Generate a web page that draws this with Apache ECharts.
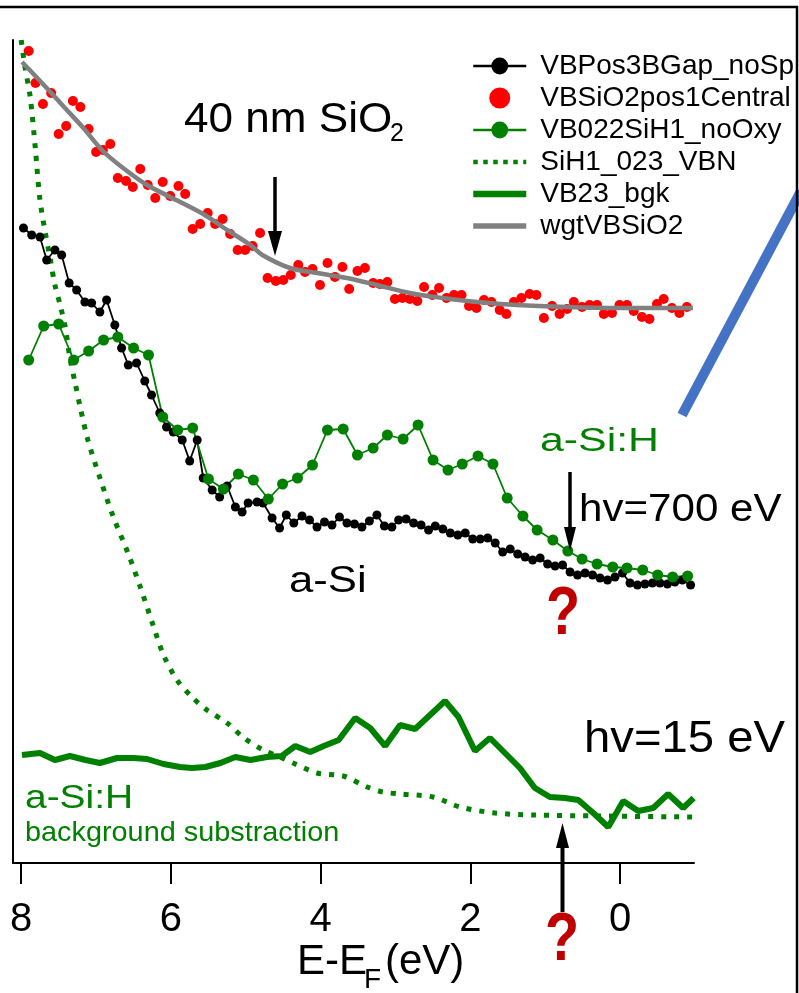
<!DOCTYPE html>
<html><head><meta charset="utf-8">
<script src="https://cdn.jsdelivr.net/npm/echarts@6/dist/echarts.min.js"></script>
<style>html,body{margin:0;padding:0;background:#fff;}#c{width:799px;height:993px;}</style>
</head><body><div id="c"></div>
<script>
const FONT = '"Liberation Sans", Arial, Helvetica, sans-serif';
const xTicks = [8, 6, 4, 2, 0];

// VBPos3BGap_noSp (black, hv=700 eV a-Si)
const blackX = [7.97,7.86,7.75,7.66,7.55,7.46,7.36,7.26,7.15,7.06,6.95,6.86,6.75,6.66,6.57,6.46,
 6.35,6.26,6.15,6.06,5.97,5.85,5.75,5.65,5.57,5.45,5.35,5.25,5.14,5.05,
 4.97,4.85,4.77,4.65,4.55,4.46,4.36,4.25,4.15,4.05,3.95,3.85,3.75,3.65,3.55,3.45,
 3.35,3.25,3.15,3.05,2.96,2.86,2.76,2.66,2.56,2.47,2.37,2.27,2.17,2.07,1.97,1.87,1.77,
 1.67,1.57,1.47,1.37,1.27,1.17,1.07,0.97,0.87,0.77,0.67,0.57,0.47,0.37,0.27,0.17,0.07,
 -0.03,-0.13,-0.23,-0.33,-0.43,-0.53,-0.63,-0.73,-0.83,-0.94];
const blackY = [635,628,626,603,613,608,580,573,561,560,551,563,538,515,498,500,
 482,468,450,436,431,423,402,423,385,373,366,377,356,351,
 360,361,360,345,335,348,340,347,343,336,341,338,346,340,339,336,
 342,348,337,336,343,344,340,338,333,337,334,330,328,330,324,324,325,
 320,311,314,309,306,303,305,299,297,298,291,288,290,288,285,283,286,
 290,280,278,279,280,280,279,281,283,278];

// VBSiO2pos1Central (red dots)
const redX = [7.90,7.81,7.71,7.60,7.50,7.40,7.31,7.21,7.10,7.00,
 6.91,6.81,6.71,6.60,6.51,6.41,6.31,6.21,6.11,6.01,
 5.90,5.81,5.71,5.61,5.51,5.41,5.31,5.21,5.11,5.01,
 4.91,4.81,4.71,4.60,4.50,4.40,4.30,4.21,4.11,4.01,
 3.91,3.81,3.71,3.62,3.51,3.41,3.30,3.21,3.11,3.01,
 2.91,2.81,2.71,2.62,2.51,2.42,2.32,2.22,2.12,2.02,
 1.92,1.82,1.72,1.61,1.52,1.42,1.32,1.21,1.12,1.02,
 0.91,0.81,0.71,0.62,0.51,0.41,0.31,0.22,0.11,0.01,
 -0.09,-0.18,-0.29,-0.39,-0.49,-0.58,-0.69,-0.79,-0.89,-0.99];
const redY = [812,780,759,770,729,737,762,756,734,711,
 713,719,685,682,676,694,678,665,681,667,
 677,669,634,639,650,639,644,629,613,613,
 617,630,585,582,583,588,598,591,594,578,
 600,586,596,574,592,595,580,579,581,564,
 565,564,562,576,568,575,565,568,568,557,
 555,563,561,553,549,561,565,569,568,545,
 557,549,554,561,556,558,558,549,550,558,
 558,552,546,544,559,564,555,550,556,555];

// VB022SiH1_noOxy (green with markers, hv=700 eV a-Si:H)
const greenX = [7.90,7.70,7.50,7.30,7.10,6.90,6.71,6.50,6.30,6.11,
 5.91,5.71,5.50,5.30,5.10,4.90,4.70,4.51,4.31,4.11,
 3.91,3.70,3.51,3.30,3.11,2.90,2.70,2.50,2.30,2.11,
 1.90,1.70,1.51,1.30,1.11,0.90,0.70,0.51,0.31,0.10,
 -0.09,-0.30,-0.50,-0.70,-0.90];
const greenY = [503,537,539,503,512,523,526,515,508,446,
 433,435,384,374,389,383,364,379,385,398,
 433,434,408,415,428,424,438,403,393,399,
 407,399,365,347,333,323,312,304,299,296,
 295,293,288,286,287];

// SiH1_023_VBN (green dotted)
const dotX = [8.00,7.95,7.88,7.81,7.75,7.68,7.61,7.55,7.48,7.41,7.35,7.28,7.21,
 7.11,6.94,6.77,6.58,6.41,6.24,6.10,5.92,5.72,5.52,5.25,5.04,
 4.77,4.54,4.37,4.05,3.70,3.38,3.17,2.94,2.50,2.14,1.67,1.16,0.27,-0.97];
const dotY = [823,796,766,713,663,631,603,578,558,535,505,480,455,
 423,383,346,311,276,238,208,183,166,153,140,126,
 113,106,100,90,87,76,71,69,66,56,50,48,47,46];

// VB23_bgk (thick green, hv=15 eV)
const bgkX = [7.99,7.75,7.55,7.35,7.14,6.95,6.72,6.50,6.32,6.10,
 5.88,5.72,5.54,5.34,5.14,4.94,4.72,4.52,4.34,4.14,
 3.96,3.76,3.54,3.34,3.14,2.94,2.74,2.54,2.34,2.16,
 1.94,1.74,1.54,1.34,1.14,0.94,0.74,0.56,0.36,0.16,
 -0.04,-0.24,-0.44,-0.64,-0.84,-0.98];
const bgkY = [108,110,103,107,103,100,105,105,104,99,
 96,95,96,100,106,103,106,107,117,111,
 117,123,145,135,117,138,134,148,162,146,
 112,125,110,95,75,66,65,63,50,36,
 62,52,55,69,55,65];

// wgtVBSiO2 (gray)
const grayX = [7.99,7.71,7.44,7.17,6.91,6.64,6.32,6.01,5.57,5.25,4.94,4.78,4.41,4.05,3.65,3.25,2.81,2.37,1.91,1.38,0.71,0.04,-0.97];
const grayY = [801,779,757,735,712,695,678,666,649,633,618,608,595,590,585,578,570,565,561,558,556,555,555];

const zip = (xs, ys) => xs.map((x, i) => [x, ys[i]]);
const GREEN = '#008000';
const DOT_DASH = [5, 8];

const chart = echarts.init(document.getElementById('c'), null, { renderer: 'canvas' });

function txt(text, x, y, size, color, opts) {
  opts = opts || {};
  return {
    type: 'text', x: x, y: y, z: 100, scaleX: opts.sx || 1, scaleY: opts.sy || 1,
    style: {
      text: text, x: 0, y: 0, fill: color, fontSize: size, fontFamily: FONT,
      fontWeight: opts.bold ? 'bold' : 'normal', align: 'left', verticalAlign: 'middle'
    }
  };
}
function vline(x, y1, y2, w) {
  return { type: 'line', z: 100, shape: { x1: x, y1: y1, x2: x, y2: y2 }, style: { stroke: '#000', lineWidth: w } };
}
function tri(pts) {
  return { type: 'polygon', z: 100, shape: { points: pts }, style: { fill: '#000' } };
}

const option = {
  animation: false,
  backgroundColor: '#fff',
  grid: { left: 13, right: 105, top: 40, bottom: 130, containLabel: false, outerBoundsMode: 'none' },
  xAxis: {
    type: 'value', inverse: true, min: -0.985, max: 8.11,
    axisLine: { onZero: false, lineStyle: { color: '#000', width: 2 } },
    axisTick: { customValues: xTicks, length: 21, lineStyle: { color: '#000', width: 2 } },
    axisLabel: { customValues: xTicks, margin: 37, fontSize: 40, color: '#000', fontFamily: FONT },
    splitLine: { show: false }
  },
  yAxis: {
    type: 'value', min: 0, max: 823,
    axisLine: { show: true, onZero: false, lineStyle: { color: '#000', width: 2 } },
    axisTick: { show: false }, axisLabel: { show: false }, splitLine: { show: false }
  },
  legend: {
    orient: 'vertical', left: 470, top: 50, padding: 0, itemGap: 0,
    itemWidth: 53, itemHeight: 21, selectedMode: false,
    textStyle: { fontSize: 28, fontFamily: FONT, color: '#000', lineHeight: 32, padding: [0, 0, 0, 9] },
    data: [
      { name: 'VBPos3BGap_noSp', lineStyle: { width: 2.5 } },
      { name: 'VBSiO2pos1Central' },
      { name: 'VB022SiH1_noOxy', lineStyle: { width: 2.5 } },
      { name: 'SiH1_023_VBN', itemStyle: { opacity: 0 }, lineStyle: { width: 4.5, type: [4.5, 5.5] } },
      { name: 'VB23_bgk', itemStyle: { opacity: 0 }, lineStyle: { width: 6.5 } },
      { name: 'wgtVBSiO2', itemStyle: { opacity: 0 }, lineStyle: { width: 5.5 } }
    ]
  },
  series: [
    { name: 'VBPos3BGap_noSp', type: 'line', data: zip(blackX, blackY), symbol: 'circle', symbolSize: 9,
      itemStyle: { color: '#000' }, lineStyle: { color: '#000', width: 1.8 } },
    { name: 'VBSiO2pos1Central', type: 'scatter', data: zip(redX, redY), symbol: 'circle', symbolSize: 10,
      itemStyle: { color: '#ff0000', opacity: 1 } },
    { name: 'VB022SiH1_noOxy', type: 'line', data: zip(greenX, greenY), symbol: 'circle', symbolSize: 11,
      itemStyle: { color: GREEN }, lineStyle: { color: GREEN, width: 1.8 } },
    { name: 'SiH1_023_VBN', type: 'line', data: zip(dotX, dotY), symbol: 'none', smooth: 0.3,
      itemStyle: { color: GREEN }, lineStyle: { color: GREEN, width: 5, type: DOT_DASH, cap: 'butt' } },
    { name: 'VB23_bgk', type: 'line', data: zip(bgkX, bgkY), symbol: 'none',
      itemStyle: { color: GREEN }, lineStyle: { color: GREEN, width: 6 } },
    { name: 'wgtVBSiO2', type: 'line', z: 5, data: zip(grayX, grayY), symbol: 'none', smooth: 0.3,
      itemStyle: { color: '#808080' }, lineStyle: { color: '#808080', width: 4.5 } }
  ],
  graphic: [
    // frame lines
    { type: 'line', z: 100, shape: { x1: 0, y1: 7, x2: 798, y2: 7 }, style: { stroke: '#000', lineWidth: 2.5 } },
    { type: 'line', z: 100, shape: { x1: 797, y1: 6, x2: 797, y2: 993 }, style: { stroke: '#000', lineWidth: 2.5 } },
    // blue stroke
    { type: 'line', z: 90, shape: { x1: 682, y1: 415, x2: 801, y2: 191 }, style: { stroke: '#4472C4', lineWidth: 10, lineCap: 'butt' } },
    // annotations
    txt('40 nm SiO', 184, 120, 42, '#000', { sx: 1.05 }),
    txt('2', 390, 134, 25, '#000'),
    vline(275, 177, 236, 3.5), tri([[268, 231], [282, 231], [275, 256]]),
    txt('a-Si:H', 540, 441.5, 34, GREEN, { sx: 1.26 }),
    txt('hv=700 eV', 579, 510, 39, '#000', { sx: 1.08 }),
    vline(570, 472, 530, 3.5), tri([[564, 527], [576, 527], [570, 551]]),
    txt('a-Si', 289, 582, 37, '#000', { sx: 1.18 }),
    txt('?', 546, 615, 68, '#C00000', { bold: true, sx: 0.82 }),
    txt('hv=15 eV', 584, 740, 45, '#000', { sx: 1.05 }),
    txt('a-Si:H', 25, 798.5, 33, GREEN, { sx: 1.18 }),
    txt('background substraction', 25, 833, 28, GREEN, { sx: 1.03 }),
    vline(562.5, 912, 845, 4), tri([[556, 848], [569, 848], [562.5, 823]]),
    txt('?', 545, 941, 68, '#C00000', { bold: true, sx: 0.82 }),
    // x axis title E-E_F(eV)
    txt('E-E', 297, 962, 42, '#000'),
    txt('F', 364, 980, 28, '#000'),
    txt('(eV)', 385, 962, 42, '#000')
  ]
};
chart.setOption(option);
</script>
</body></html>
